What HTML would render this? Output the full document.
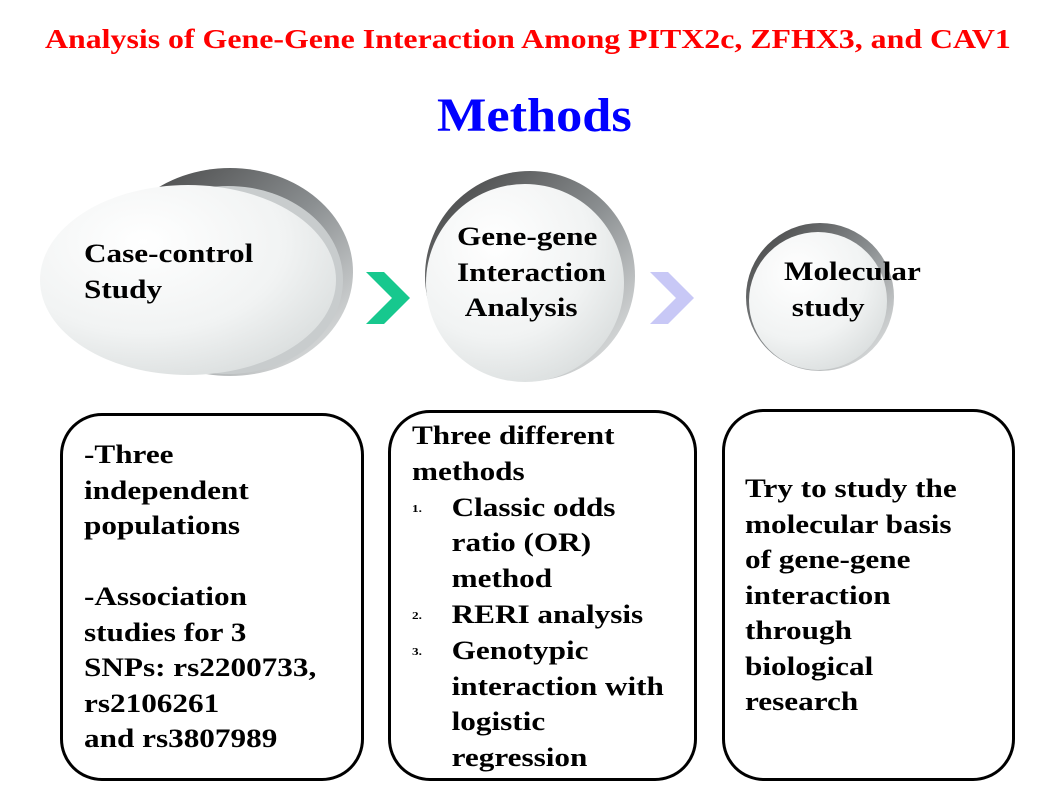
<!DOCTYPE html>
<html><head><meta charset="utf-8"><style>
body{margin:0;width:1058px;height:793px;background:#fff;position:relative;overflow:hidden;font-family:"Liberation Serif",serif;font-weight:bold}
.a{position:absolute;white-space:nowrap}
.box{position:absolute;border:3px solid #000;border-radius:42px;box-sizing:border-box}
.t{position:absolute;font-size:26px;line-height:35.5px;color:#000;white-space:nowrap;transform:scaleX(1.2);transform-origin:0 0}
.t div{height:35.8px;position:relative}
.i{padding-left:33px}
.n{font-size:11px;position:absolute;left:0;top:2px}
</style></head><body>
<div class="a" style="left:45px;top:24px;font-size:27px;color:#f00;transform:scaleX(1.18);transform-origin:0 0">Analysis of Gene-Gene Interaction Among PITX2c, ZFHX3, and CAV1</div>
<div class="a" style="left:437px;top:88px;font-size:48px;color:#0000ff;transform:scaleX(1.09);transform-origin:0 0">Methods</div>
<svg class="a" style="left:0;top:0" width="1058" height="400">
<defs>
<linearGradient id="d" x1="0" y1="0" x2="1" y2="1"><stop offset="0" stop-color="#3c3c3c"/><stop offset="0.5" stop-color="#8a8e90"/><stop offset="1" stop-color="#eef0f0"/></linearGradient>
<radialGradient id="l" cx="0.35" cy="0.3" r="0.8"><stop offset="0" stop-color="#ffffff"/><stop offset="0.6" stop-color="#f1f3f3"/><stop offset="1" stop-color="#d8dcdc"/></radialGradient>
</defs>
<ellipse cx="230" cy="272" rx="123" ry="104" fill="url(#d)"/>
<ellipse cx="228" cy="280" rx="115" ry="94" fill="#c8cccd"/>
<ellipse cx="188" cy="280" rx="148" ry="95" fill="url(#l)"/>
<circle cx="530" cy="276" r="105" fill="url(#d)"/>
<circle cx="525" cy="283" r="99" fill="url(#l)"/>
<circle cx="820" cy="297" r="74" fill="url(#d)"/>
<circle cx="818" cy="301" r="69" fill="url(#l)"/>
<polygon points="366,272 384,272 410,298 384,324 366,324 392,298" fill="#17c88e"/>
<polygon points="650,272 668,272 694,298 668,324 650,324 676,298" fill="#c8c8f6"/>
</svg>
<div class="t" style="left:84px;top:236px">Case-control<br>Study</div>
<div class="t" style="left:457px;top:219px">Gene-gene<br>Interaction<br>&nbsp;Analysis</div>
<div class="t" style="left:784px;top:254px">Molecular<br>&nbsp;study</div>
<div class="box" style="left:60px;top:413px;width:304px;height:368px"></div>
<div class="box" style="left:388px;top:410px;width:309px;height:371px"></div>
<div class="box" style="left:722px;top:409px;width:293px;height:372px"></div>
<div class="t" style="left:84px;top:437px">-Three<br>independent<br>populations<br>&nbsp;<br>-Association<br>studies for 3<br>SNPs: rs2200733,<br>rs2106261<br>and rs3807989</div>
<div class="t" style="left:412px;top:418px;line-height:35.8px">
<div>Three different</div>
<div>methods</div>
<div class="i"><span class="n">1.</span>Classic odds</div>
<div class="i">ratio (OR)</div>
<div class="i">method</div>
<div class="i"><span class="n">2.</span>RERI analysis</div>
<div class="i"><span class="n">3.</span>Genotypic</div>
<div class="i">interaction with</div>
<div class="i">logistic</div>
<div class="i">regression</div>
</div>
<div class="t" style="left:745px;top:471px">Try to study the<br>molecular basis<br>of gene-gene<br>interaction<br>through<br>biological<br>research</div>
</body></html>
